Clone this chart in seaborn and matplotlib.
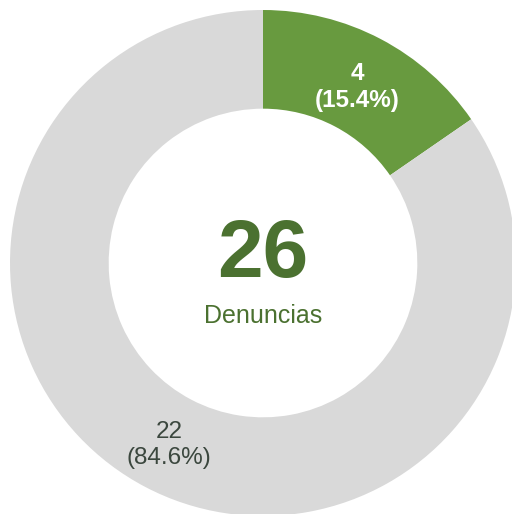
import matplotlib
matplotlib.use("Agg")
import matplotlib.pyplot as plt
import seaborn as sns

categories = ["Sí", "No"]
values = [4, 22]
total_label = "Denuncias"

sns.set_theme(style="white")
plt.rcParams['font.family'] = ['Liberation Sans', 'DejaVu Sans']

colors = ["#689A3F", "#D9D9D9"]
text_colors = ["#FFFFFF", "#3B473E"]
weights = ["bold", "normal"]

W, H = 512, 514
R = 253.0
cx, cy_top = 263.0, 263.0
fig = plt.figure(figsize=(W / 100, H / 100), dpi=100)
ax = fig.add_axes([0, 0, 1, 1])
ax.set_axis_off()

total = sum(values)


def fmt(pct):
    v = int(round(pct * total / 100.0))
    return f"{v}\n({pct:.1f}%)"


wedges, texts, autotexts = ax.pie(
    values,
    colors=colors,
    startangle=90,
    counterclock=False,
    autopct=fmt,
    pctdistance=0.80,
    wedgeprops=dict(width=0.39, edgecolor="none"),
    textprops=dict(fontsize=17.5),
)
for t, c, w in zip(autotexts, text_colors, weights):
    t.set_color(c)
    t.set_fontweight(w)
    t.set_linespacing(1.25)
    x, y = t.get_position()
    t.set_position((x, y - 0.012))

ax.set_xlim(-cx / R, (W - cx) / R)
ax.set_ylim(-(H - cy_top) / R, cy_top / R)
ax.set_aspect("auto")

ax.text(0, -0.055, str(total), ha="center", va="baseline", fontsize=59,
        fontweight="bold", color="#4B7130")
ax.text(0, -0.237, total_label, ha="center", va="baseline", fontsize=18,
        color="#4B7130")

fig.savefig("out.png", dpi=100)
